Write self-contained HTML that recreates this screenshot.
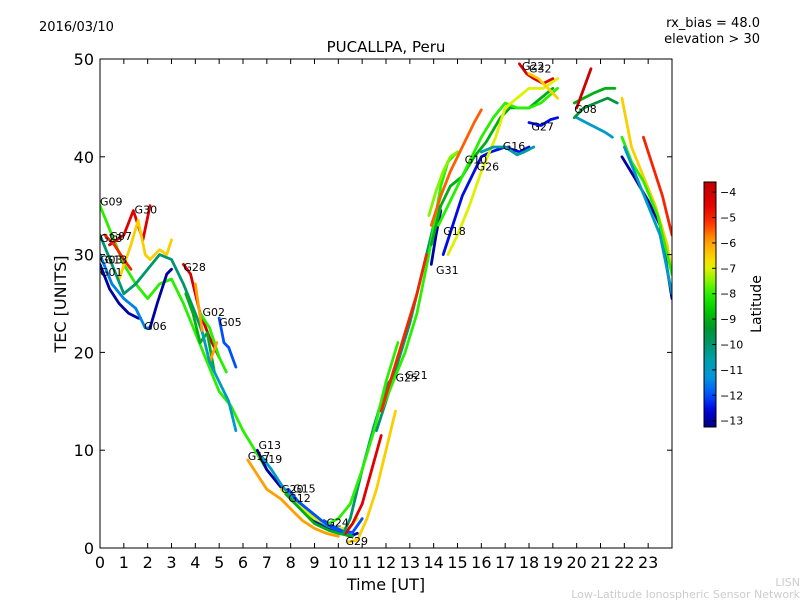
<!DOCTYPE html>
<html><head><meta charset="utf-8"><style>
body{margin:0;background:#fff;width:800px;height:600px;overflow:hidden;position:relative}
svg{font-family:"DejaVu Sans","Liberation Sans",sans-serif}
</style></head><body>
<svg id="c" width="800" height="600"></svg>
<script>
// Data (time UT hours, TEC units, latitude)
const trackNames=["G09","G30","G30b","G07","G01","G03","G06","G23","G28","G02","G05","Gd1","Gd2","Gd3","G13","G17","G19","G20","G12","G15","G24","Gr1","Gr2","Gr3","G29","G25","G21","G31","G18","Gc1","Gc2","G10","G26","Gu1","Gu2","G16","G27","G22","G32","G08","Ge1","Ge2","Gev1","Gev2","Gev3","Gev4","Gev5","Gev6"];
const trackLat=[-8,-4.5,-6.5,-5,-13,-11.5,-13,-10,-4.2,-8,-12,-9,-6,-11,-13,-6,-11,-7,-9,-12,-12,-4.5,-10,-8,-6.5,-10,-8,-5,-13,-7.5,-9,-5.5,-12.5,-8,-7,-10.5,-12.5,-4.5,-6.5,-9,-4,-11,-6.5,-13,-8,-11,-5,-9.5];
const trackT=[
[0,0.5,1,1.5,2,2.5,3,3.5,4,4.5,5,5.5,6,7,8,9,10,10.4],
[0.4,1,1.4,1.8,2.1],
[0.8,1.3,1.6,1.9,2.1,2.5,2.8,3],
[0.2,0.6,1,1.3],
[0,0.4,0.8,1.2,1.6,1.7],
[0,0.5,1,1.5,1.9,2.1],
[2.1,2.4,2.8,3],
[0,0.5,1,1.5,2,2.5,3,3.5,4,4.3],
[3.5,3.8,4.2,4.6,5],
[4.2,4.6,5,5.3],
[5,5.2,5.4,5.7],
[3.6,3.9,4.2,4.5,4.8],
[4,4.3,4.6,4.9],
[4.3,4.6,5,5.4,5.7],
[6.6,7,7.5,8,8.5,9,9.5,10,10.5,10.8],
[6.2,6.6,7,7.6,8,8.5,9,9.5,10],
[6.8,7.2,7.6,8,8.6,9,9.6,10,10.5],
[7.6,8,8.5,9,9.5,10,10.4,10.8],
[7.8,8.2,8.6,9,9.6,10,10.6],
[7.9,8.3,8.8,9.3,9.8,10.3],
[9.4,9.8,10.2,10.6,11],
[10.3,10.6,11,11.4,11.8],
[10.2,10.5,11,11.5,12,12.2],
[9.6,10,10.5,11,11.5,12,12.5],
[10.4,10.8,11.2,11.6,12,12.4],
[11.6,12,12.5,13,13.5,14,14.2],
[11.8,12.3,12.8,13.3,13.8,14.3,14.6,15],
[11.8,12.3,12.8,13.3,13.7],
[13.9,14.1,14.3],
[13.8,14.1,14.4,14.7,15],
[13.9,14.3,14.7,15.2,15.7,16.2,16.8,17.2,17.6,18,18.5,19],
[13.9,14.3,14.7,15.2,15.7,16],
[14.4,14.8,15.2,15.6,16,16.4,17,17.6,18],
[14.2,14.6,15,15.5,16,16.5,17,17.5,18,18.5,19.2],
[14.6,15,15.5,16,16.6,17,17.5,18,18.6,19.2],
[16,16.5,17,17.5,17.8,18.2],
[18,18.5,18.9,19.2],
[17.6,17.9,18.2,18.6,19],
[18,18.4,18.8,19.2],
[19.9,20.3,20.7,21.2,21.6],
[20,20.3,20.6],
[20,20.4,20.8,21.2,21.5],
[21.9,22.3,22.8,23.3,23.8,24],
[21.9,22.4,23,23.5,24],
[21.9,22.3,22.8,23.4,24],
[22,22.5,23,23.5,24],
[22.8,23.2,23.6,24],
[19.9,20.3,20.8,21.3,21.7]];
const trackV=[
[35,32,29,27,25.5,27,27.5,25,22,19,16,14.5,12,8,5,3,1.8,1.5],
[31,32,34.5,31.5,35],
[27.5,31,33.5,30,29.5,30.5,30,31.5],
[32,31,29.5,28.5],
[29,26.5,25,24,23.5,23.5],
[30,27,25.5,24.5,22.5,22.5],
[22.5,25,28,28.5],
[32,29,26,27,28.5,30,29.5,27,24,22],
[29,28,24,21.5,19.5],
[24,22.5,19.5,18],
[23.5,21,20.5,18.5],
[26,24,21,22,18],
[27,22,19,21],
[22,19,17,15,12],
[10,8,6.5,5,3.8,2.8,2,1.6,1.2,1.5],
[9,7.5,6,5,4,2.8,2,1.5,1.2],
[9.3,8,6.5,5.2,4,3,2.2,1.8,1.4],
[6,5,4,3,2.5,2,2,3],
[5.5,4.5,3.5,2.5,1.8,1.5,1.2],
[6,4.8,3.8,2.8,2,1.5],
[2.8,2.2,1.7,1.6,3],
[1.5,2.5,4.5,8,11.5],
[1.5,3,8,12.5,16.5,17.2],
[2.5,3,4.5,8,12,17,21],
[0.6,0.8,3,6,10,14],
[12,15,19,23,28,33,35],
[14,17,20,24,30,37,39.5,40.5],
[14,18,22,26,30],
[29,32,34.5],
[34,36.5,38.5,40,40.5],
[31,35,37,38,40,41.5,44,45,45,45,46,47],
[33,36,38.5,41,43.5,44.8],
[30,33,36,38,40,40.5,41,40.5,41],
[33,35,37,39.5,42,44,45.5,45,45,45.5,47],
[30,32,35,38.5,42,45,46,47,47,48],
[40.5,41,41,40.2,40.5,41],
[43.5,43.2,43.8,44],
[49.5,48.5,48,47.5,48],
[48.5,48,47,46],
[45.5,46,46.5,47,47],
[45,47,49],
[44,43.5,43,42.5,42],
[46,41,38,35,31,28],
[40,38,35.5,33,25.5],
[42,39.5,37.5,34,28],
[41,38,35,32,26],
[42,39,36,32],
[44,45,45.5,46,45.5]];
const labels=[["G09",0,35],["G30",1.45,34.2],["G23",0,31.3],["G07",0.4,31.5],["G03",0,29.1],["G13",0.2,29.1],["G01",0,27.8],["G06",1.85,22.3],["G28",3.5,28.3],["G02",4.3,23.7],["G05",5,22.7],["G13",6.65,10.1],["G17",6.2,9],["G19",6.7,8.7],["G20",7.6,5.6],["G15",8.1,5.7],["G12",7.9,4.7],["G24",9.5,2.2],["G29",10.3,0.3],["G25",12.4,17],["G21",12.8,17.3],["G31",14.1,28],["G18",14.4,32],["G10",15.3,39.3],["G26",15.8,38.6],["G16",16.9,40.7],["G27",18.1,42.7],["G22",17.7,48.9],["G32",18,48.6],["G08",19.9,44.5]];
const xTicks=[0,1,2,3,4,5,6,7,8,9,10,11,12,13,14,15,16,17,18,19,20,21,22,23];
const yTicks=[0,10,20,30,40,50];
const cbTicks=[-4,-5,-6,-7,-8,-9,-10,-11,-12,-13];

const S=document.getElementById('c'),NS='http://www.w3.org/2000/svg';
const X0=100,X1=672,Y0=548,Y1=59;
const xs=t=>X0+t/24*(X1-X0), ys=v=>Y0-v/50*(Y0-Y1);
const CMIN=-13.25,CMAX=-3.6;
const CS=[[-13.25,[0,0,128]],[-12.6,[0,0,220]],[-12,[0,80,255]],[-11.3,[0,150,220]],[-10.6,[0,160,170]],[-10,[0,150,110]],[-9.3,[0,150,40]],[-8.7,[0,200,0]],[-8,[40,240,0]],[-7.4,[150,245,0]],[-6.9,[240,240,0]],[-6.3,[255,190,0]],[-5.8,[255,140,0]],[-5.2,[255,50,0]],[-4.5,[225,0,0]],[-3.6,[190,0,0]]];
function jet(v){v=Math.max(CMIN,Math.min(CMAX,v));
 for(let i=1;i<CS.length;i++){if(v<=CS[i][0]){const a=CS[i-1],b=CS[i],f=(v-a[0])/(b[0]-a[0]);
  return 'rgb('+a[1].map((c,k)=>Math.round(c+(b[1][k]-c)*f)).join(',')+')';}}
 return 'rgb(190,0,0)';}
function el(tag,a,p){const e=document.createElementNS(NS,tag);for(const k in a)e.setAttribute(k,a[k]);(p||S).appendChild(e);return e;}
function txt(s,a,p){const e=el('text',a,p);e.textContent=s;return e;}

el('rect',{x:X0,y:Y1,width:X1-X0,height:Y0-Y1,fill:'#fff'});
const g=el('g',{'clip-path':'url(#cp)'});
const cp=el('clipPath',{id:'cp'});el('rect',{x:X0,y:Y1,width:X1-X0,height:Y0-Y1},cp);
trackT.forEach((ts,i)=>{
 const vs=trackV[i];
 const p=el('polyline',{points:ts.map((t,j)=>xs(t)+','+ys(vs[j])).join(' '),fill:'none',stroke:jet(trackLat[i]),'stroke-width':2.8,'stroke-linejoin':'round','stroke-linecap':'round'},g);
 
 
});
labels.forEach(l=>{const t=txt(l[0],{x:xs(l[1]),y:ys(l[2]),'font-size':11,fill:'#000'});
 
 });
el('rect',{x:X0,y:Y1,width:X1-X0,height:Y0-Y1,fill:'none',stroke:'#000','stroke-width':1});
xTicks.forEach(t=>{const x=xs(t);
 el('line',{x1:x,x2:x,y1:Y0,y2:Y0-5,stroke:'#000'});el('line',{x1:x,x2:x,y1:Y1,y2:Y1+5,stroke:'#000'});
 const e=txt(String(t),{x:x,y:Y0+20,'font-size':16,'text-anchor':'middle'});
 
 });
yTicks.forEach(v=>{const y=ys(v);
 el('line',{x1:X0,x2:X0+5,y1:y,y2:y,stroke:'#000'});el('line',{x1:X1,x2:X1-5,y1:y,y2:y,stroke:'#000'});
 const e=txt(String(v),{x:X0-6,y:y+6,'font-size':16,'text-anchor':'end'});
 
 });
// colorbar
const CB={x:704,w:12,y0:427,y1:182};
const defs=el('defs',{});const lg=el('linearGradient',{id:'jg',x1:0,y1:1,x2:0,y2:0},defs);
for(let i=0;i<=40;i++){const v=CMIN+(CMAX-CMIN)*i/40;el('stop',{offset:i/40,'stop-color':jet(v)},lg);}
const cb=el('rect',{x:CB.x,y:CB.y1,width:CB.w,height:CB.y0-CB.y1,fill:'url(#jg)',stroke:'#000'});

const cy=v=>CB.y0-(v-CMIN)/(CMAX-CMIN)*(CB.y0-CB.y1);
cbTicks.forEach(v=>{const y=cy(v);el('line',{x1:CB.x+CB.w-4,x2:CB.x+CB.w,y1:y,y2:y,stroke:'#000'});
 const e=txt('\u2212'+Math.abs(v),{x:CB.x+CB.w+4,y:y+4,'font-size':11});
 
 });
</script>
<svg width="800" height="600" style="position:absolute;left:0;top:0">
<text x="39" y="31" font-size="13">2016/03/10</text>
<text x="760" y="27" font-size="13" text-anchor="end">rx_bias = 48.0</text>
<text x="760" y="43" font-size="13" text-anchor="end">elevation &gt; 30</text>
<text x="386" y="52" font-size="15" text-anchor="middle">PUCALLPA, Peru</text>
<text x="386" y="590" font-size="16" text-anchor="middle">Time [UT]</text>
<text x="66" y="304" font-size="16" text-anchor="middle" transform="rotate(-90 66 304)">TEC [UNITS]</text>
<text x="761" y="304" font-size="14" text-anchor="middle" transform="rotate(-90 761 304)">Latitude</text>
<text x="800" y="586" font-size="11" fill="#ccc" text-anchor="end">LISN</text>
<text x="800" y="598" font-size="11" fill="#ccc" text-anchor="end">Low-Latitude Ionospheric Sensor Network</text>
</svg>
</body></html>
